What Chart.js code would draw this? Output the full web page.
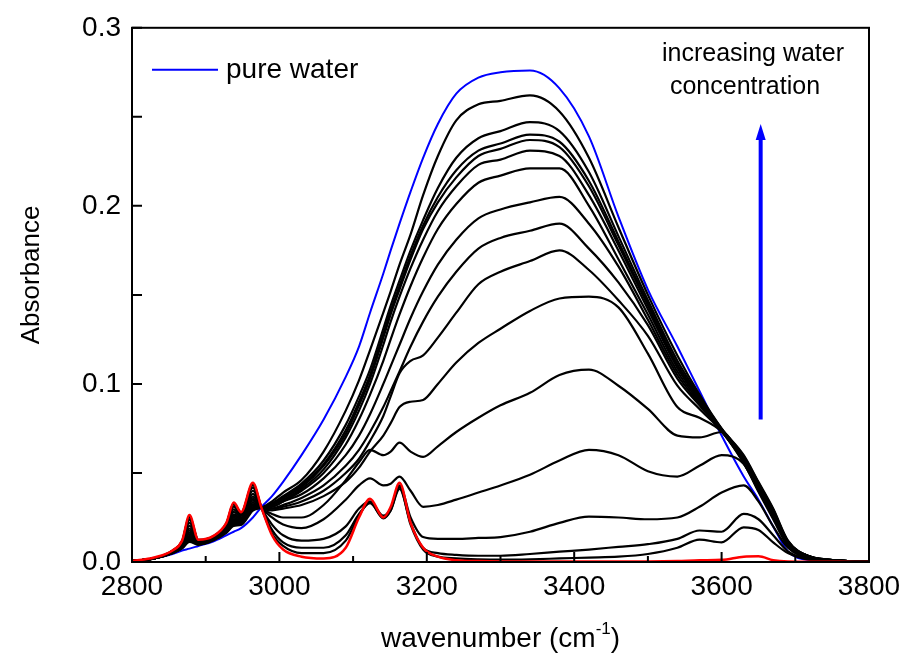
<!DOCTYPE html>
<html>
<head>
<meta charset="utf-8">
<script src="https://cdn.jsdelivr.net/npm/chart.js@4/dist/chart.umd.min.js"></script>
<style>
  html, body { margin: 0; padding: 0; background: #fff; }
  #wrap { width: 918px; height: 661px; }
</style>
</head>
<body>
<div id="wrap"><canvas id="chart" width="918" height="661"></canvas></div>
<script>
// wavenumber grid (cm-1) shared by every spectrum
const wavenumber = [2800, 2830, 2855, 2868, 2878, 2890, 2910, 2928, 2938, 2948, 2964, 2976,
  2990, 3005, 3030, 3060, 3090, 3108, 3123, 3141, 3151, 3163, 3178, 3195, 3215, 3240, 3270, 3300,
  3340, 3380, 3420, 3460, 3500, 3540, 3570, 3600, 3630, 3650, 3670, 3690, 3720, 3760, 3800];

const pureWater = [0.0005, 0.002, 0.0045, 0.0065, 0.0075, 0.009, 0.0115, 0.015, 0.017, 0.019, 0.025, 0.031,
  0.037, 0.045, 0.060, 0.080, 0.104, 0.121, 0.140, 0.162, 0.175, 0.190, 0.208, 0.227, 0.246, 0.263, 0.272, 0.275,
  0.276, 0.266, 0.239, 0.194, 0.153, 0.121, 0.096, 0.071, 0.048, 0.035, 0.020, 0.006, 0.001, 0.0003, 0];

// mixtures, from highest to lowest water content
const mix1 = [0.0005, 0.002, 0.0049, 0.0076, 0.0113, 0.0097, 0.0121, 0.0164, 0.0203, 0.0208, 0.0289, 0.0305,
  0.034, 0.039, 0.046, 0.062, 0.085, 0.102, 0.119, 0.140, 0.152, 0.167, 0.184, 0.206, 0.228, 0.248, 0.257, 0.259,
  0.262, 0.253, 0.227, 0.188, 0.150, 0.116, 0.094, 0.075, 0.060, 0.045, 0.030, 0.012, 0.003, 0.0008, 0.0002];
const mix2 = [0.0005, 0.002, 0.005, 0.0078, 0.012, 0.0098, 0.0122, 0.0167, 0.0209, 0.0212, 0.0297, 0.0305,
  0.033, 0.037, 0.044, 0.057, 0.077, 0.093, 0.108, 0.131, 0.144, 0.158, 0.175, 0.192, 0.210, 0.227, 0.238, 0.242,
  0.247, 0.242, 0.219, 0.183, 0.147, 0.113, 0.093, 0.0748, 0.0595, 0.0445, 0.0295, 0.0118, 0.003, 0.0008, 0.0002];
const mix3 = [0.0005, 0.002, 0.005, 0.008, 0.0126, 0.0099, 0.0123, 0.0169, 0.0214, 0.0214, 0.0303, 0.0305,
  0.033, 0.036, 0.043, 0.055, 0.074, 0.090, 0.105, 0.128, 0.141, 0.155, 0.172, 0.189, 0.205, 0.220, 0.231, 0.235,
  0.240, 0.236, 0.214, 0.180, 0.145, 0.111, 0.092, 0.0746, 0.059, 0.044, 0.029, 0.0115, 0.003, 0.0008, 0.0002];
const mix4 = [0.0005, 0.002, 0.0051, 0.0082, 0.0132, 0.0101, 0.0124, 0.0171, 0.0219, 0.0217, 0.0309, 0.0305,
  0.032, 0.036, 0.042, 0.054, 0.072, 0.088, 0.103, 0.126, 0.139, 0.153, 0.170, 0.187, 0.202, 0.216, 0.228, 0.232,
  0.237, 0.233, 0.211, 0.178, 0.144, 0.110, 0.0915, 0.0744, 0.0585, 0.0435, 0.0285, 0.0112, 0.003, 0.0008, 0.0002];
const mix5 = [0.0005, 0.002, 0.0052, 0.0084, 0.0139, 0.0102, 0.0125, 0.0174, 0.0226, 0.0221, 0.0316, 0.0305,
  0.032, 0.035, 0.041, 0.052, 0.070, 0.085, 0.100, 0.122, 0.135, 0.149, 0.165, 0.181, 0.197, 0.211, 0.223, 0.226,
  0.231, 0.228, 0.206, 0.175, 0.142, 0.109, 0.091, 0.0742, 0.058, 0.043, 0.028, 0.011, 0.003, 0.0008, 0.0002];
const mix6 = [0.0005, 0.002, 0.0053, 0.0086, 0.0147, 0.0103, 0.0126, 0.0177, 0.0232, 0.0224, 0.0324, 0.0305,
  0.031, 0.034, 0.040, 0.050, 0.066, 0.080, 0.094, 0.113, 0.125, 0.139, 0.155, 0.171, 0.187, 0.201, 0.213, 0.217,
  0.221, 0.221, 0.200, 0.170, 0.139, 0.107, 0.090, 0.074, 0.0575, 0.0425, 0.0275, 0.0108, 0.003, 0.0008, 0.0002];
const mix7 = [0.0005, 0.002, 0.0054, 0.0089, 0.0156, 0.0105, 0.0128, 0.018, 0.0241, 0.0229, 0.0334, 0.0305,
  0.031, 0.034, 0.038, 0.047, 0.060, 0.071, 0.083, 0.100, 0.110, 0.122, 0.137, 0.152, 0.167, 0.181, 0.193, 0.198,
  0.202, 0.205, 0.190, 0.166, 0.136, 0.105, 0.089, 0.0738, 0.057, 0.042, 0.027, 0.0105, 0.003, 0.0008, 0.0002];
const mix8 = [0.0005, 0.002, 0.0055, 0.0091, 0.0166, 0.0107, 0.0129, 0.0184, 0.0249, 0.0233, 0.0344, 0.0305,
  0.030, 0.032, 0.036, 0.043, 0.054, 0.063, 0.073, 0.087, 0.096, 0.107, 0.121, 0.135, 0.149, 0.163, 0.176, 0.182,
  0.186, 0.190, 0.176, 0.157, 0.133, 0.103, 0.088, 0.0736, 0.0565, 0.0415, 0.0265, 0.0102, 0.003, 0.0008, 0.0002];
const mix9 = [0.0005, 0.002, 0.0056, 0.0095, 0.0177, 0.0109, 0.0131, 0.0188, 0.0259, 0.0239, 0.0355, 0.0305,
  0.030, 0.031, 0.034, 0.040, 0.050, 0.058, 0.068, 0.082, 0.093, 0.106, 0.113, 0.116, 0.126, 0.140, 0.156, 0.163,
  0.169, 0.175, 0.164, 0.147, 0.127, 0.099, 0.086, 0.0734, 0.056, 0.041, 0.026, 0.010, 0.003, 0.0008, 0.0002];
const mix10 = [0.0005, 0.002, 0.0057, 0.0098, 0.0188, 0.0111, 0.0133, 0.0192, 0.0268, 0.0244, 0.0367, 0.0305,
  0.029, 0.030, 0.032, 0.037, 0.045, 0.053, 0.062, 0.071, 0.078, 0.087, 0.090, 0.091, 0.100, 0.112, 0.123, 0.131,
  0.141, 0.148, 0.149, 0.143, 0.117, 0.087, 0.081, 0.0732, 0.0555, 0.0405, 0.0255, 0.0098, 0.003, 0.0008, 0.0002];
const mix11 = [0.0005, 0.002, 0.0059, 0.0102, 0.0204, 0.0114, 0.0135, 0.0198, 0.0282, 0.0251, 0.0383, 0.0305,
  0.027, 0.025, 0.025, 0.032, 0.046, 0.056, 0.063, 0.060, 0.062, 0.067, 0.062, 0.059, 0.065, 0.073, 0.081, 0.088,
  0.095, 0.105, 0.108, 0.099, 0.086, 0.071, 0.070, 0.073, 0.0555, 0.040, 0.025, 0.0095, 0.003, 0.0008, 0.0002];
const mix12 = [0.0005, 0.002, 0.006, 0.0107, 0.0221, 0.0117, 0.0138, 0.0204, 0.0296, 0.0259, 0.0400, 0.0305,
  0.025, 0.021, 0.019, 0.024, 0.035, 0.043, 0.047, 0.043, 0.044, 0.048, 0.040, 0.031, 0.032, 0.035, 0.039, 0.043,
  0.049, 0.057, 0.063, 0.060, 0.051, 0.048, 0.054, 0.060, 0.055, 0.0395, 0.024, 0.009, 0.0025, 0.0008, 0.0002];
const mix13 = [0.0005, 0.002, 0.0062, 0.0112, 0.0238, 0.012, 0.0141, 0.021, 0.0311, 0.0267, 0.0418, 0.0302,
  0.021, 0.015, 0.012, 0.013, 0.020, 0.030, 0.034, 0.026, 0.030, 0.043, 0.025, 0.014, 0.013, 0.013, 0.0135, 0.014,
  0.017, 0.022, 0.0255, 0.025, 0.024, 0.025, 0.031, 0.039, 0.043, 0.034, 0.020, 0.008, 0.002, 0.0006, 0.0002];
const mix14 = [0.0005, 0.002, 0.0064, 0.0116, 0.0251, 0.0123, 0.0143, 0.0215, 0.0323, 0.0274, 0.0431, 0.0302,
  0.018, 0.011, 0.008, 0.008, 0.015, 0.027, 0.033, 0.025, 0.029, 0.041, 0.022, 0.008, 0.005, 0.004, 0.0035, 0.0035,
  0.0045, 0.0058, 0.007, 0.0085, 0.010, 0.013, 0.0177, 0.017, 0.027, 0.024, 0.015, 0.006, 0.0015, 0.0005, 0.0001];
const mix15 = [0.0005, 0.002, 0.0064, 0.0118, 0.0258, 0.0124, 0.0144, 0.0218, 0.0329, 0.0277, 0.0439, 0.0301,
  0.016, 0.009, 0.005, 0.005, 0.012, 0.026, 0.0335, 0.0245, 0.029, 0.042, 0.021, 0.007, 0.003, 0.002, 0.0015, 0.0013,
  0.0015, 0.002, 0.0025, 0.003, 0.0045, 0.008, 0.0126, 0.011, 0.0195, 0.018, 0.011, 0.005, 0.0012, 0.0004, 0.0001];

// no water (red)
const dry = [0.0005, 0.0025, 0.0065, 0.012, 0.0264, 0.0125, 0.0145, 0.022, 0.0334, 0.028, 0.0445, 0.030,
  0.015, 0.007, 0.003, 0.002, 0.008, 0.025, 0.0355, 0.025, 0.031, 0.0445, 0.022, 0.008, 0.003, 0.001, 0.0005, 0.0003,
  0.0003, 0.0003, 0.0003, 0.0003, 0.0003, 0.0005, 0.001, 0.0012, 0.003, 0.0032, 0.001, 0.0003, 0.0002, 0.0001, 0];

const xTickValues = [2800, 3000, 3200, 3400, 3600, 3800];
const xMinorValues = [2900, 3100, 3300, 3500, 3700];
const yTickValues = [0, 0.1, 0.2, 0.3];
const yMinorValues = [0.05, 0.15, 0.25];

// arrow next to the "increasing water concentration" note, in data units
const arrowX = 3653;
const arrowFrom = 0.080;
const arrowTo = 0.246;

const FONT = "'Liberation Sans', Arial, sans-serif";

const pts = (arr) => arr.map((v, i) => ({ x: wavenumber[i], y: v }));
const mixes = [mix1, mix2, mix3, mix4, mix5, mix6, mix7, mix8, mix9, mix10, mix11, mix12, mix13, mix14, mix15];

const line = (arr, color, w) => ({
  data: pts(arr), borderColor: color, borderWidth: w,
  pointRadius: 0, fill: false, cubicInterpolationMode: 'monotone'
});

// first dataset is painted last, so red sits on top and blue underneath
const datasets = [
  line(dry, '#ff0000', 2.5),
  ...mixes.map(m => line(m, '#000000', 2.2)),
  line(pureWater, '#0000ff', 2)
];

const decor = {
  id: 'decor',
  afterDatasetsDraw(chart) {
    const { ctx, chartArea: a, scales: { x, y } } = chart;
    ctx.save();

    // frame + inward ticks
    ctx.strokeStyle = '#000';
    ctx.lineWidth = 2;
    ctx.strokeRect(a.left, a.top, a.right - a.left, a.bottom - a.top);
    ctx.beginPath();
    xTickValues.forEach(v => { const p = x.getPixelForValue(v); ctx.moveTo(p, a.bottom); ctx.lineTo(p, a.bottom - 10); });
    xMinorValues.forEach(v => { const p = x.getPixelForValue(v); ctx.moveTo(p, a.bottom); ctx.lineTo(p, a.bottom - 6); });
    yTickValues.forEach(v => { const p = y.getPixelForValue(v); ctx.moveTo(a.left, p); ctx.lineTo(a.left + 10, p); });
    yMinorValues.forEach(v => { const p = y.getPixelForValue(v); ctx.moveTo(a.left, p); ctx.lineTo(a.left + 10, p); });
    ctx.stroke();

    // legend
    ctx.strokeStyle = '#0000ff';
    ctx.lineWidth = 2;
    ctx.beginPath();
    ctx.moveTo(a.left + 20, a.top + 42);
    ctx.lineTo(a.left + 86, a.top + 42);
    ctx.stroke();
    ctx.fillStyle = '#000';
    ctx.font = '28px ' + FONT;
    ctx.textAlign = 'left';
    ctx.textBaseline = 'middle';
    ctx.fillText('pure water', a.left + 94, a.top + 42);

    // note + arrow
    ctx.font = '25px ' + FONT;
    ctx.textAlign = 'center';
    ctx.fillText('increasing water', 753, 54);
    ctx.fillText('concentration', 745, 87);

    const ax = x.getPixelForValue(arrowX);
    const y0 = y.getPixelForValue(arrowFrom);
    const y1 = y.getPixelForValue(arrowTo);
    ctx.strokeStyle = ctx.fillStyle = '#0000ff';
    ctx.lineWidth = 4;
    ctx.beginPath();
    ctx.moveTo(ax, y0);
    ctx.lineTo(ax, y1 + 12);
    ctx.stroke();
    ctx.beginPath();
    ctx.moveTo(ax, y1);
    ctx.lineTo(ax - 5, y1 + 16);
    ctx.lineTo(ax + 5, y1 + 16);
    ctx.closePath();
    ctx.fill();

    // axis titles
    ctx.fillStyle = '#000';
    ctx.save();
    ctx.translate(32, (a.top + a.bottom) / 2 - 20);
    ctx.rotate(-Math.PI / 2);
    ctx.font = '26px ' + FONT;
    ctx.textAlign = 'center';
    ctx.textBaseline = 'middle';
    ctx.fillText('Absorbance', 0, 0);
    ctx.restore();

    const main = 'wavenumber (cm', sup = '-1', close = ')';
    ctx.textAlign = 'left';
    ctx.textBaseline = 'alphabetic';
    ctx.font = '28px ' + FONT;
    const w1 = ctx.measureText(main).width, w3 = ctx.measureText(close).width;
    ctx.font = '17px ' + FONT;
    const w2 = ctx.measureText(sup).width;
    let cx = (a.left + a.right) / 2 - (w1 + w2 + w3) / 2;
    ctx.font = '28px ' + FONT;
    ctx.fillText(main, cx, 647);
    ctx.font = '17px ' + FONT;
    ctx.fillText(sup, cx + w1, 634);
    ctx.font = '28px ' + FONT;
    ctx.fillText(close, cx + w1 + w2, 647);

    ctx.restore();
  }
};

new Chart(document.getElementById('chart'), {
  type: 'line',
  data: { datasets },
  options: {
    responsive: false,
    animation: false,
    layout: { padding: { top: 20, right: 49, left: 0, bottom: 0 } },
    plugins: { legend: { display: false }, tooltip: { enabled: false } },
    scales: {
      x: {
        type: 'linear', min: 2800, max: 3800,
        afterBuildTicks: s => { s.ticks = xTickValues.map(v => ({ value: v })); },
        afterFit: s => { s.height = 99; },
        grid: { display: false, drawTicks: false },
        border: { display: false },
        ticks: { color: '#000', padding: 8, maxRotation: 0, font: { family: FONT, size: 28 }, callback: v => String(v) }
      },
      y: {
        type: 'linear', min: 0, max: 0.3,
        afterBuildTicks: s => { s.ticks = yTickValues.map(v => ({ value: v })); },
        afterFit: s => { s.width = 132; },
        grid: { display: false, drawTicks: false },
        border: { display: false },
        ticks: { color: '#000', padding: 11, font: { family: FONT, size: 28 }, callback: v => v.toFixed(1) }
      }
    }
  },
  plugins: [decor]
});
</script>
</body>
</html>
